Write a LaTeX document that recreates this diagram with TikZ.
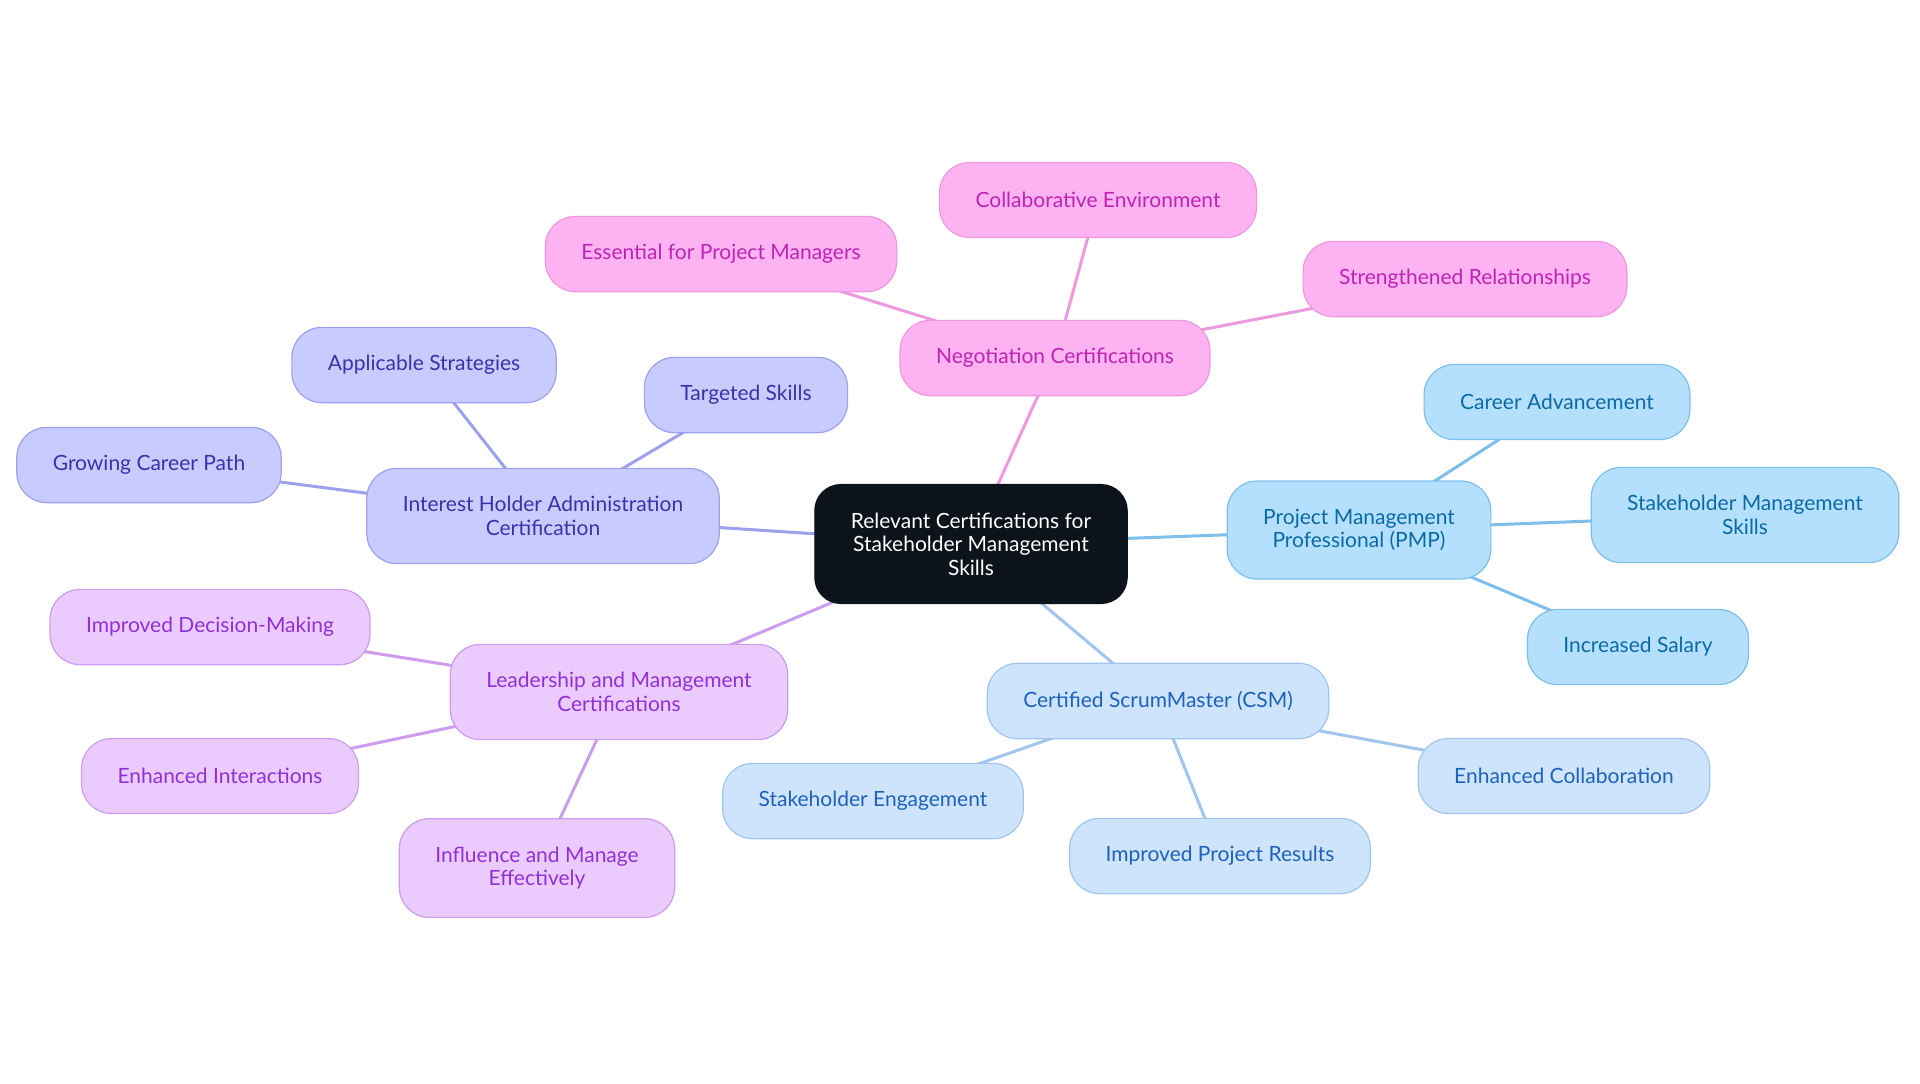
\documentclass[tikz,border=0pt]{standalone}
\usepackage{fontspec}
\setmainfont{Lato}
\usepackage{xcolor}
\usepackage{tikz}
\usetikzlibrary{backgrounds}

\definecolor{rootfill}{HTML}{0C131A}
\definecolor{negfill}{HTML}{FDB2F1}
\definecolor{negline}{HTML}{EE98DE}
\definecolor{negtext}{HTML}{BE24B4}
\definecolor{ihafill}{HTML}{C8CBFE}
\definecolor{ihaline}{HTML}{9DA1EC}
\definecolor{ihatext}{HTML}{3A32A8}
\definecolor{leadfill}{HTML}{EBCAFD}
\definecolor{leadline}{HTML}{CB9DEC}
\definecolor{leadtext}{HTML}{9130D6}
\definecolor{pmpfill}{HTML}{B4E0FD}
\definecolor{pmpline}{HTML}{7EBFEA}
\definecolor{pmptext}{HTML}{0A6AA6}
\definecolor{csmfill}{HTML}{CDE4FC}
\definecolor{csmline}{HTML}{A0C5EF}
\definecolor{csmtext}{HTML}{1E62BA}

\begin{document}
\begin{tikzpicture}[x=0.5pt, y=-0.5pt,
    every node/.style={rounded corners=15pt, align=center, inner xsep=18pt, inner ysep=14pt,
        minimum height=37.5pt, line width=0.6pt, font=\fontsize{10.5}{11.8}\selectfont},
    rootbox/.style={draw=rootfill, fill=rootfill, text=white, rounded corners=13pt},
    negbox/.style={draw=negline, fill=negfill, text=negtext},
    ihabox/.style={draw=ihaline, fill=ihafill, text=ihatext},
    leadbox/.style={draw=leadline, fill=leadfill, text=leadtext},
    pmpbox/.style={draw=pmpline, fill=pmpfill, text=pmptext},
    csmbox/.style={draw=csmline, fill=csmfill, text=csmtext},
    link/.style={line width=1.5pt}]
    \useasboundingbox (0,0) rectangle (1920,1083);

    \node[rootbox] (root) at (971,544) {Relevant Certifications for\\Stakeholder Management\\Skills};

    \node[negbox] (neg) at (1055,358) {Negotiation Certifications};
    \node[negbox] (collab) at (1098,200) {Collaborative Environment};
    \node[negbox] (essential) at (721,254) {Essential for Project Managers};
    \node[negbox] (relations) at (1465,279) {Strengthened Relationships};

    \node[ihabox] (iha) at (543,516) {Interest Holder Administration\\Certification};
    \node[ihabox] (strategies) at (424,365) {Applicable Strategies};
    \node[ihabox] (targeted) at (746,395) {Targeted Skills};
    \node[ihabox] (career) at (149,465) {Growing Career Path};

    \node[leadbox] (lead) at (619,692) {Leadership and Management\\Certifications};
    \node[leadbox] (decision) at (210,627) {Improved Decision-Making};
    \node[leadbox] (interact) at (220,776) {Enhanced Interactions};
    \node[leadbox] (influence) at (537,868) {Influence and Manage\\Effectively};

    \node[pmpbox] (pmp) at (1359,530) {Project Management\\Professional (PMP)};
    \node[pmpbox] (advance) at (1557,402) {Career Advancement};
    \node[pmpbox] (skills) at (1745,515) {Stakeholder Management\\Skills};
    \node[pmpbox] (salary) at (1638,647) {Increased Salary};

    \node[csmbox] (csm) at (1158,701) {Certified ScrumMaster (CSM)};
    \node[csmbox] (engage) at (873,801) {Stakeholder Engagement};
    \node[csmbox] (results) at (1220,856) {Improved Project Results};
    \node[csmbox] (collabor) at (1564,776) {Enhanced Collaboration};

    \begin{scope}[on background layer]
        \draw[link, negline] (root.center) -- (neg.center);
        \draw[link, negline] (neg.center) -- (collab.center);
        \draw[link, negline] (neg.center) -- (essential.center);
        \draw[link, negline] (neg.center) -- (relations.center);
        \draw[link, ihaline] (root.center) -- (iha.center);
        \draw[link, ihaline] (iha.center) -- (strategies.center);
        \draw[link, ihaline] (iha.center) -- (targeted.center);
        \draw[link, ihaline] (iha.center) -- (career.center);
        \draw[link, leadline] (root.center) -- (lead.center);
        \draw[link, leadline] (lead.center) -- (decision.center);
        \draw[link, leadline] (lead.center) -- (interact.center);
        \draw[link, leadline] (lead.center) -- (influence.center);
        \draw[link, pmpline] (root.center) -- (pmp.center);
        \draw[link, pmpline] (pmp.center) -- (advance.center);
        \draw[link, pmpline] (pmp.center) -- (skills.center);
        \draw[link, pmpline] (pmp.center) -- (salary.center);
        \draw[link, csmline] (root.center) -- (csm.center);
        \draw[link, csmline] (csm.center) -- (engage.center);
        \draw[link, csmline] (csm.center) -- (results.center);
        \draw[link, csmline] (csm.center) -- (collabor.center);
    \end{scope}
\end{tikzpicture}
\end{document}
